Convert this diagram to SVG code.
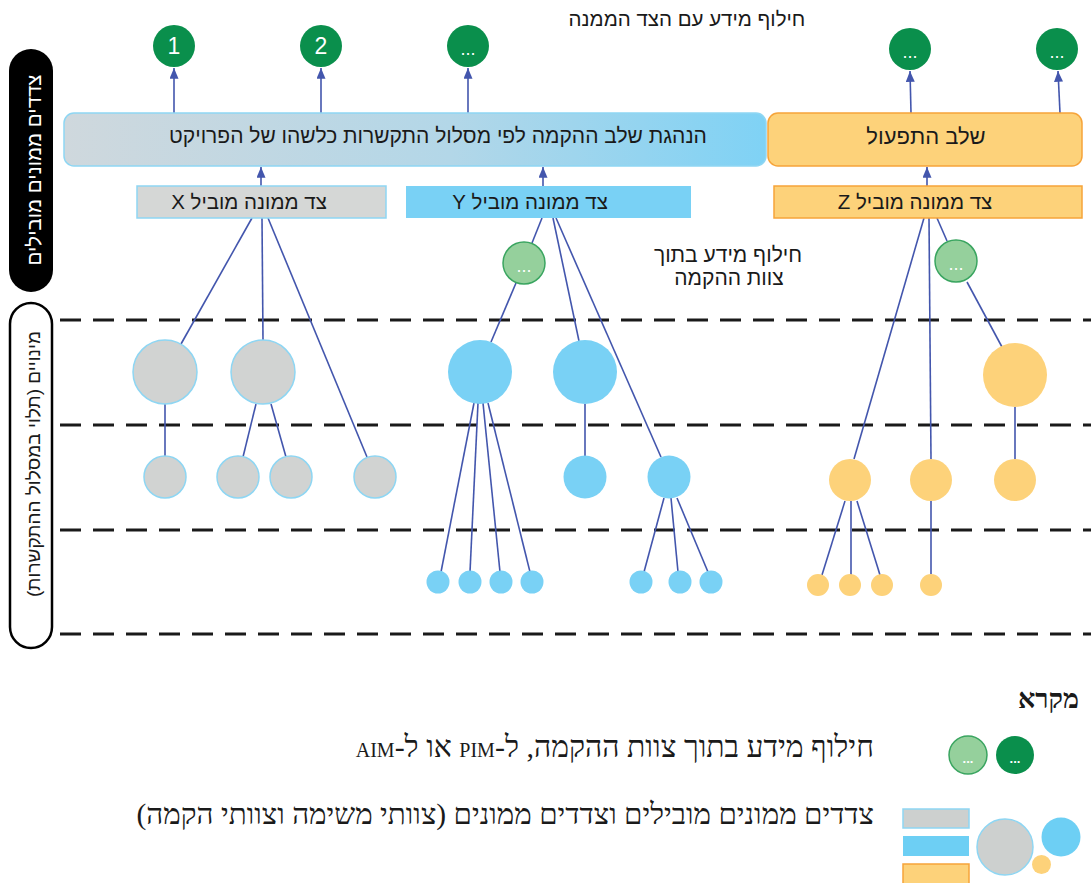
<svg xmlns="http://www.w3.org/2000/svg" width="1091" height="883" viewBox="0 0 1091 883">
  <defs>
    <linearGradient id="hdrGrad" x1="0" y1="0" x2="1" y2="0">
      <stop offset="0" stop-color="#cfd8dd"/>
      <stop offset="0.55" stop-color="#b3d7e8"/>
      <stop offset="1" stop-color="#7fd2f5"/>
    </linearGradient>
    <marker id="arrowUp" viewBox="0 0 12 10" refX="12" refY="5" markerWidth="11" markerHeight="9" markerUnits="userSpaceOnUse" orient="auto">
      <path d="M0,0 L12,5 L0,10 z" fill="#4356ad"/>
    </marker>
    <style>
      .lvl { stroke: #1a1a1a; stroke-width: 3; stroke-dasharray: 21 12; fill: none; }
      .ln { stroke: #4356ad; stroke-width: 1.6; fill: none; }
      .arr { stroke: #4356ad; stroke-width: 1.6; fill: none; marker-end: url(#arrowUp); }
      .grey { fill: #d1d3d2; stroke: #8ed6f3; stroke-width: 1.5; }
      .blue { fill: #79d1f5; }
      .orange { fill: #fdd27a; }
      .dkgreen { fill: #0a8f4c; }
      .ltgreen { fill: #95d09c; stroke: #3aa560; stroke-width: 1.5; }
      .he { font-family: "Liberation Sans", "DejaVu Sans", sans-serif; direction: rtl; fill: #1a1a1a; }
      .heSerif { font-family: "Liberation Serif", "DejaVu Serif", serif; direction: rtl; fill: #1a1a1a; }
      .lat { font-size: 20px; }
      .wt { font-family: "Liberation Sans", "DejaVu Sans", sans-serif; fill: #ffffff; text-anchor: middle; }
    </style>
  </defs>

  <rect width="1091" height="883" fill="#ffffff"/>

  <!-- level separators -->
  <g id="levels">
    <line class="lvl" x1="60" y1="320" x2="1091" y2="320"/>
    <line class="lvl" x1="60" y1="425" x2="1091" y2="425"/>
    <line class="lvl" x1="60" y1="530" x2="1091" y2="530"/>
    <line class="lvl" x1="60" y1="634" x2="1091" y2="634"/>
  </g>

  <!-- side labels -->
  <g id="label-leading">
    <rect x="9" y="49" width="44" height="243" rx="22" fill="#000000"/>
    <text class="he" x="0" y="0" font-size="20.5" style="fill:#ffffff" text-anchor="middle" dominant-baseline="central" transform="translate(33,170) rotate(-90)">צדדים ממונים מובילים</text>
  </g>
  <g id="label-appointments">
    <rect x="10" y="303" width="42" height="345" rx="21" fill="#ffffff" stroke="#000000" stroke-width="2.5"/>
    <text class="he" x="0" y="0" font-size="19" text-anchor="middle" dominant-baseline="central" transform="translate(33,464) rotate(-90)">מינויים (תלוי במסלול ההתקשרות)</text>
  </g>

  <!-- connectors -->
  <g id="connectors">
    <!-- up to the appointing side -->
    <line class="arr" x1="174" y1="113" x2="174" y2="68"/>
    <line class="arr" x1="321" y1="113" x2="321" y2="68"/>
    <line class="arr" x1="468" y1="113" x2="468" y2="68"/>
    <line class="arr" x1="911" y1="113" x2="910" y2="71"/>
    <line class="arr" x1="1060" y1="113" x2="1058" y2="71"/>
    <!-- leading sides up to phase boxes -->
    <line class="arr" x1="261" y1="186" x2="261" y2="167"/>
    <line class="arr" x1="543" y1="186" x2="543" y2="167"/>
    <line class="arr" x1="927" y1="186" x2="927" y2="167"/>

    <!-- X tree -->
    <line class="ln" x1="252" y1="218" x2="181" y2="344"/>
    <line class="ln" x1="262" y1="218" x2="263" y2="340"/>
    <line class="ln" x1="268" y1="218" x2="367" y2="457"/>
    <line class="ln" x1="165" y1="404" x2="165" y2="456"/>
    <line class="ln" x1="256" y1="404" x2="243" y2="457"/>
    <line class="ln" x1="271" y1="404" x2="286" y2="457"/>

    <!-- Y tree -->
    <line class="ln" x1="542" y1="218" x2="532" y2="243"/>
    <line class="ln" x1="516" y1="283" x2="491" y2="342"/>
    <line class="ln" x1="553" y1="218" x2="579" y2="341"/>
    <line class="ln" x1="556" y1="218" x2="661" y2="457"/>
    <line class="ln" x1="474" y1="403" x2="441" y2="572"/>
    <line class="ln" x1="478" y1="403" x2="470" y2="572"/>
    <line class="ln" x1="483" y1="403" x2="500" y2="572"/>
    <line class="ln" x1="488" y1="403" x2="530" y2="572"/>
    <line class="ln" x1="585" y1="404" x2="585" y2="456"/>
    <line class="ln" x1="664" y1="498" x2="644" y2="572"/>
    <line class="ln" x1="671" y1="498" x2="678" y2="572"/>
    <line class="ln" x1="677" y1="498" x2="708" y2="572"/>

    <!-- Z tree -->
    <line class="ln" x1="924" y1="218" x2="854" y2="459"/>
    <line class="ln" x1="929" y1="218" x2="931" y2="459"/>
    <line class="ln" x1="937" y1="218" x2="947" y2="241"/>
    <line class="ln" x1="967" y1="282" x2="1002" y2="347"/>
    <line class="ln" x1="1015" y1="407" x2="1015" y2="459"/>
    <line class="ln" x1="845" y1="501" x2="822" y2="575"/>
    <line class="ln" x1="851" y1="501" x2="851" y2="575"/>
    <line class="ln" x1="857" y1="501" x2="880" y2="575"/>
    <line class="ln" x1="931" y1="501" x2="931" y2="574"/>
  </g>

  <!-- appointing side exchange points -->
  <text class="he" x="687" y="26" font-size="20.5" text-anchor="middle">חילוף מידע עם הצד הממנה</text>
  <g id="pim-1">
    <circle class="dkgreen" cx="174" cy="46" r="21"/>
    <text class="wt" x="174" y="54" font-size="23">1</text>
  </g>
  <g id="pim-2">
    <circle class="dkgreen" cx="321" cy="46" r="21"/>
    <text class="wt" x="321" y="54" font-size="23">2</text>
  </g>
  <g id="pim-n">
    <circle class="dkgreen" cx="468" cy="46" r="21"/>
    <text class="wt" x="468" y="55" font-size="18">...</text>
  </g>
  <g id="aim-1">
    <circle class="dkgreen" cx="910" cy="49" r="21"/>
    <text class="wt" x="910" y="58" font-size="18">...</text>
  </g>
  <g id="aim-2">
    <circle class="dkgreen" cx="1057" cy="49" r="21"/>
    <text class="wt" x="1057" y="58" font-size="18">...</text>
  </g>

  <!-- phase boxes -->
  <g id="phase-build">
    <rect x="64" y="113" width="702" height="53" rx="10" fill="url(#hdrGrad)" stroke="#8ed6f3" stroke-width="1.5"/>
    <text class="he" x="438" y="143" font-size="21" text-anchor="middle">הנהגת שלב ההקמה לפי מסלול התקשרות כלשהו של הפרויקט</text>
  </g>
  <g id="phase-operate">
    <rect x="768" y="113" width="314" height="53" rx="10" fill="#fdd27a" stroke="#f6a43a" stroke-width="1.5"/>
    <text class="he" x="926" y="144" font-size="22" text-anchor="middle">שלב התפעול</text>
  </g>

  <!-- leading appointed sides -->
  <g id="lead-x">
    <rect x="137" y="186" width="249" height="32" fill="#d5d7d6" stroke="#8ed6f3" stroke-width="1.5"/>
    <text class="he" x="249" y="209" font-size="20.5" text-anchor="middle">צד ממונה מוביל X</text>
  </g>
  <g id="lead-y">
    <rect x="406" y="186" width="285" height="32" fill="#79d1f5"/>
    <text class="he" x="530" y="209" font-size="20.5" text-anchor="middle">צד ממונה מוביל Y</text>
  </g>
  <g id="lead-z">
    <rect x="774" y="186" width="308" height="32" fill="#fdd27a" stroke="#f6a43a" stroke-width="1.5"/>
    <text class="he" x="915" y="209" font-size="20.5" text-anchor="middle">צד ממונה מוביל Z</text>
  </g>

  <!-- exchange within the delivery team -->
  <text class="he" x="728" y="262" font-size="21" text-anchor="middle">חילוף מידע בתוך</text>
  <text class="he" x="729" y="285" font-size="21" text-anchor="middle">צוות ההקמה</text>
  <g id="team-exchange-y">
    <circle class="ltgreen" cx="524" cy="263" r="21"/>
    <text class="wt" x="524" y="272" font-size="18">...</text>
  </g>
  <g id="team-exchange-z">
    <circle class="ltgreen" cx="956" cy="261" r="21"/>
    <text class="wt" x="956" y="270" font-size="18">...</text>
  </g>

  <!-- X team -->
  <g id="x-a"><circle class="grey" cx="165" cy="372" r="32"/></g>
  <g id="x-b"><circle class="grey" cx="263" cy="372" r="32"/></g>
  <g id="x-a1"><circle class="grey" cx="165" cy="477" r="21"/></g>
  <g id="x-b1"><circle class="grey" cx="238" cy="477" r="21"/></g>
  <g id="x-b2"><circle class="grey" cx="291" cy="477" r="21"/></g>
  <g id="x-c"><circle class="grey" cx="375" cy="477" r="21"/></g>

  <!-- Y team -->
  <g id="y-a"><circle class="blue" cx="480" cy="372" r="32"/></g>
  <g id="y-b"><circle class="blue" cx="585" cy="372" r="32"/></g>
  <g id="y-b1"><circle class="blue" cx="585" cy="477" r="21.5"/></g>
  <g id="y-c"><circle class="blue" cx="669" cy="477" r="21.5"/></g>
  <g id="y-a1"><circle class="blue" cx="438" cy="582" r="11.5"/></g>
  <g id="y-a2"><circle class="blue" cx="470" cy="582" r="11.5"/></g>
  <g id="y-a3"><circle class="blue" cx="501" cy="582" r="11.5"/></g>
  <g id="y-a4"><circle class="blue" cx="532" cy="582" r="11.5"/></g>
  <g id="y-c1"><circle class="blue" cx="641" cy="582" r="11.5"/></g>
  <g id="y-c2"><circle class="blue" cx="680" cy="582" r="11.5"/></g>
  <g id="y-c3"><circle class="blue" cx="711" cy="582" r="11.5"/></g>

  <!-- Z team -->
  <g id="z-a"><circle class="orange" cx="1015" cy="375" r="32"/></g>
  <g id="z-b"><circle class="orange" cx="850" cy="480" r="21"/></g>
  <g id="z-c"><circle class="orange" cx="931" cy="480" r="21"/></g>
  <g id="z-a1"><circle class="orange" cx="1015" cy="480" r="21"/></g>
  <g id="z-b1"><circle class="orange" cx="818" cy="585" r="11"/></g>
  <g id="z-b2"><circle class="orange" cx="850" cy="585" r="11"/></g>
  <g id="z-b3"><circle class="orange" cx="882" cy="585" r="11"/></g>
  <g id="z-c1"><circle class="orange" cx="931" cy="585" r="11"/></g>

  <!-- legend -->
  <g id="legend">
    <text class="heSerif" x="1079" y="708" font-size="27" font-weight="bold" text-anchor="start">מקרא</text>
    <circle class="ltgreen" cx="968" cy="755" r="19"/>
    <text class="wt" x="968" y="763" font-size="13" font-weight="bold">...</text>
    <circle class="dkgreen" cx="1015" cy="755" r="19"/>
    <text class="wt" x="1015" y="763" font-size="13" font-weight="bold">...</text>
    <text class="heSerif" x="874" y="757" font-size="30" text-anchor="start">חילוף מידע בתוך צוות ההקמה, ל-<tspan class="lat">PIM</tspan> או ל-<tspan class="lat">AIM</tspan></text>

    <rect x="903" y="809" width="66" height="19" fill="#cdd0cf" stroke="#8ed6f3" stroke-width="1.5"/>
    <rect x="903" y="836" width="66" height="20" fill="#6dcff4"/>
    <rect x="903" y="864" width="66" height="24" fill="#fdd27a" stroke="#f6a43a" stroke-width="1.5"/>
    <circle cx="1005" cy="847" r="28" fill="#cdd0cf" stroke="#8ed6f3" stroke-width="1.5"/>
    <circle cx="1061" cy="837" r="19.5" fill="#6dcff4"/>
    <circle cx="1041.5" cy="864.5" r="9.5" fill="#fdd27a"/>
    <text class="heSerif" x="874" y="824" font-size="29.5" text-anchor="start">צדדים ממונים מובילים וצדדים ממונים (צוותי משימה וצוותי הקמה)</text>
  </g>
</svg>
